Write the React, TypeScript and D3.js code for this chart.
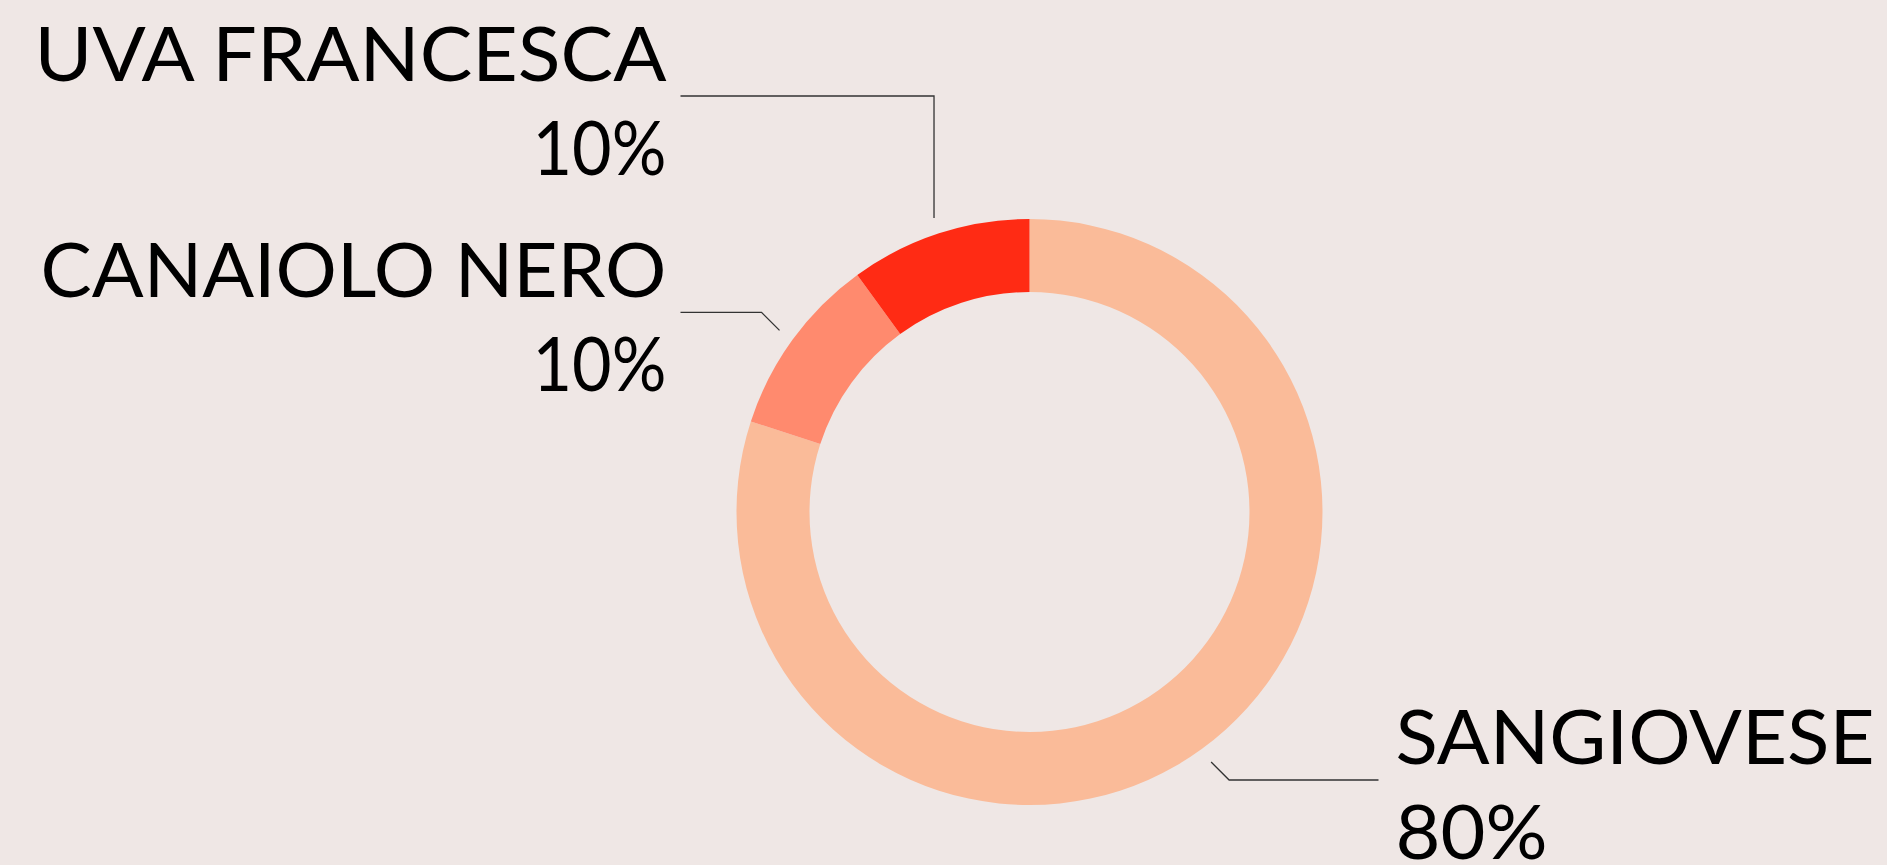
import React from "react";
import * as d3 from "d3";

const categories = ["SANGIOVESE", "CANAIOLO NERO", "UVA FRANCESCA"];
const values = [80, 10, 10];
const percentLabels = ["80%", "10%", "10%"];
const colors = ["#FABB99", "#FF8A6E", "#FF2B14"];

const W = 1887;
const H = 865;

export default function App() {
  const cx = 1029.5;
  const cy = 512;
  const outerR = 293;
  const innerR = 220;
  const startR = 309;
  const lineEndDx = 349;
  const fontSize = 76;

  const pie = d3.pie<number>().sort(null).value((d) => d);
  const arcs = pie(values);
  const arcGen = d3.arc<d3.PieArcDatum<number>>().innerRadius(innerR).outerRadius(outerR);

  // layout: per-label horizontal line y override, null = 45° elbow of 18px
  const lineYOverride: (number | null)[] = [null, null, 96];
  // layout: fitted text widths to mimic the reference typeface's proportions
  const nameWidths = [479, 626, 632];
  const pctWidths = [152, 134, 134];

  const labels = arcs.map((a, i) => {
    const mid = (a.startAngle + a.endAngle) / 2;
    const sx = cx + Math.sin(mid) * startR;
    const sy = cy - Math.cos(mid) * startR;
    const right = Math.sin(mid) > 0;
    const down = Math.cos(mid) < 0;
    let ex: number, ey: number;
    if (lineYOverride[i] != null) {
      ey = lineYOverride[i] as number;
      ex = sx;
    } else {
      const d = 18;
      ey = down ? sy + d : sy - d;
      ex = right ? sx + d : sx - d;
    }
    const hx = right ? cx + lineEndDx : cx - lineEndDx;
    const tx = right ? hx + 17 : hx - 14;
    return { i, sx, sy, ex, ey, hx, tx, right };
  });

  return (
    <svg
      width={W}
      height={H}
      style={{ position: "absolute", left: 0, top: 0, display: "block" }}
    >
      <rect x={0} y={0} width={W} height={H} fill="#EFE7E5" />
      <g transform={`translate(${cx},${cy})`}>
        {arcs.map((a, i) => (
          <path key={i} d={arcGen(a) || ""} fill={colors[i]} />
        ))}
      </g>
      {labels.map((l) => (
        <g key={l.i}>
          <polyline
            points={`${l.sx},${l.sy} ${l.ex},${l.ey} ${l.hx},${l.ey}`}
            fill="none"
            stroke="#333"
            strokeWidth={1.3}
          />
          <text
            x={l.tx}
            y={l.ey - 15.5}
            textAnchor={l.right ? "start" : "end"}
            fontFamily="Lato"
            fontSize={fontSize}
            textLength={nameWidths[l.i]}
            lengthAdjust="spacingAndGlyphs"
            fill="#000"
          >
            {categories[l.i]}
          </text>
          <text
            x={l.tx}
            y={l.ey + 79}
            textAnchor={l.right ? "start" : "end"}
            fontFamily="Lato"
            fontSize={fontSize}
            textLength={pctWidths[l.i]}
            lengthAdjust="spacingAndGlyphs"
            fill="#000"
          >
            {percentLabels[l.i]}
          </text>
        </g>
      ))}
    </svg>
  );
}
